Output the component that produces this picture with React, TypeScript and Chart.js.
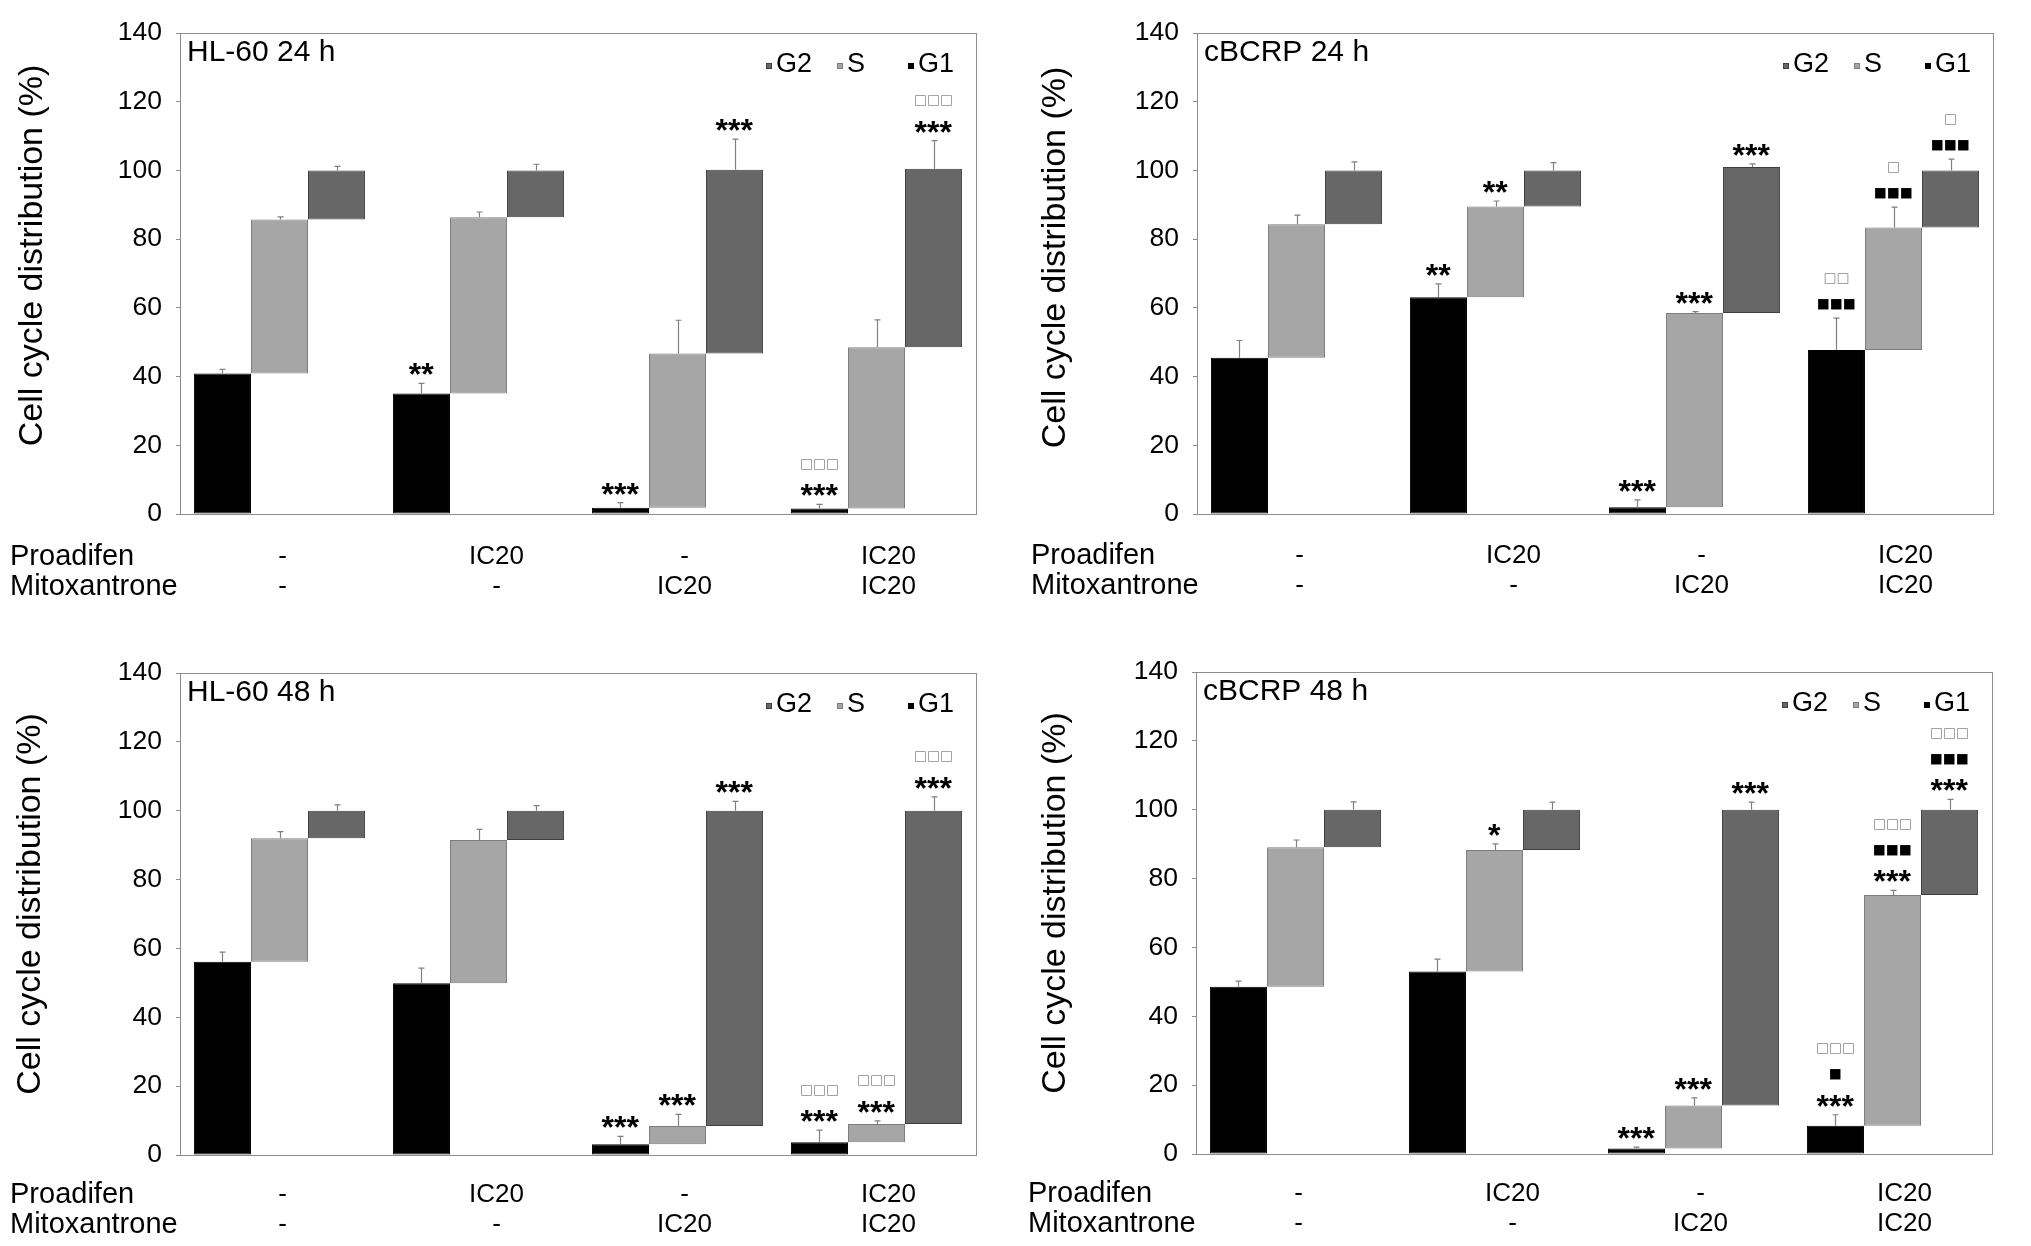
import React, { useEffect, useRef } from "react";
import { Chart, registerables } from "chart.js";

Chart.register(...registerables);

// ---------- shared labels ----------
const CATEGORIES = ["C1", "C2", "C3", "C4"];
const PROADIFEN_ROW = ["-", "IC20", "-", "IC20"];
const MITOXANTRONE_ROW = ["-", "-", "IC20", "IC20"];
const ROW_LABELS = ["Proadifen", "Mitoxantrone"];
const SERIES_NAMES = ["G1", "S", "G2"];
const LEGEND_ORDER = [2, 1, 0];
const Y_TITLE = "Cell cycle distribution (%)";
const Y_MIN = 0;
const Y_MAX = 140;
const Y_STEP = 20;

// ---------- HL-60 24 h ----------
const HL60_24_G1 = [40.9, 35.1, 1.8, 1.6];
const HL60_24_S = [44.8, 51.3, 44.9, 46.9];
const HL60_24_G2 = [14.3, 13.6, 53.5, 52.0];
const HL60_24_G1_ERR = [1.2, 2.9, 1.5, 1.2];
const HL60_24_S_ERR = [0.8, 1.5, 9.7, 8.0];
const HL60_24_G2_ERR = [1.2, 1.8, 8.9, 8.2];
const HL60_24_G1_MARKS = [[], ["**"], ["***"], ["***", "□□□"]];
const HL60_24_S_MARKS = [[], [], [], []];
const HL60_24_G2_MARKS = [[], [], ["***"], ["***", "□□□"]];

// ---------- cBCRP 24 h ----------
const CBCRP_24_G1 = [45.5, 63.1, 2.0, 47.7];
const CBCRP_24_S = [38.8, 26.4, 56.5, 35.7];
const CBCRP_24_G2 = [15.7, 10.5, 42.5, 16.6];
const CBCRP_24_G1_ERR = [5.0, 3.9, 2.1, 9.3];
const CBCRP_24_S_ERR = [2.7, 1.6, 0.4, 5.9];
const CBCRP_24_G2_ERR = [2.5, 2.3, 0.9, 3.3];
const CBCRP_24_G1_MARKS = [[], ["**"], ["***"], ["■■■", "□□"]];
const CBCRP_24_S_MARKS = [[], ["**"], ["***"], ["■■■", "□"]];
const CBCRP_24_G2_MARKS = [[], [], ["***"], ["■■■", "□"]];

// ---------- HL-60 48 h ----------
const HL60_48_G1 = [56.1, 49.9, 3.1, 3.7];
const HL60_48_S = [35.9, 41.6, 5.3, 5.3];
const HL60_48_G2 = [8.0, 8.5, 91.6, 91.0];
const HL60_48_G1_ERR = [2.8, 4.4, 2.3, 3.5];
const HL60_48_S_ERR = [1.9, 3.1, 3.4, 0.9];
const HL60_48_G2_ERR = [1.7, 1.5, 2.7, 4.0];
const HL60_48_G1_MARKS = [[], [], ["***"], ["***", "□□□"]];
const HL60_48_S_MARKS = [[], [], ["***"], ["***", "□□□"]];
const HL60_48_G2_MARKS = [[], [], ["***"], ["***", "□□□"]];

// ---------- cBCRP 48 h ----------
const CBCRP_48_G1 = [48.6, 53.0, 1.6, 8.2];
const CBCRP_48_S = [40.5, 35.3, 12.5, 67.0];
const CBCRP_48_G2 = [10.9, 11.7, 85.9, 24.8];
const CBCRP_48_G1_ERR = [1.6, 3.6, 0.4, 3.2];
const CBCRP_48_S_ERR = [2.1, 1.8, 2.2, 1.4];
const CBCRP_48_G2_ERR = [2.3, 2.2, 2.2, 3.0];
const CBCRP_48_G1_MARKS = [[], [], ["***"], ["***", "■", "□□□"]];
const CBCRP_48_S_MARKS = [[], ["*"], ["***"], ["***", "■■■", "□□□"]];
const CBCRP_48_G2_MARKS = [[], [], ["***"], ["***", "■■■", "□□□"]];

// ---------- styles ----------
const FONT = '"Liberation Sans", Arial, sans-serif';
const SYMBOL_FONT = '"DejaVu Sans", sans-serif';
const AXIS_COLOR = "#8c8c8c";
const ERR_COLOR = "#808080";
const FILLS = ["#000000", "#a6a6a6", "#676767"];
const BORDERS = ["#000000", "#7d7d7d", "#3e3e3e"];
const HOLLOW_COLOR = "#8a8a8a";
const LABEL_SHIFT = [3, 18, 7, 12];
const Y_AXIS_W = 90;

type Layout = {
  x: number; y: number; w: number; h: number;
  L: number; R: number; T: number; B: number;
  yTitleDx: number; yTitleDy: number; rowDx: number; rowDy: number;
};

type PanelDef = {
  title: string;
  values: number[][];
  errors: number[][];
  marks: string[][][];
  layout: Layout;
};

const PANELS: PanelDef[] = [
  {
    title: "HL-60 24 h",
    values: [HL60_24_G1, HL60_24_S, HL60_24_G2],
    errors: [HL60_24_G1_ERR, HL60_24_S_ERR, HL60_24_G2_ERR],
    marks: [HL60_24_G1_MARKS, HL60_24_S_MARKS, HL60_24_G2_MARKS],
    layout: { x: 0, y: 0, w: 1015, h: 623, L: 180, R: 976, T: 33, B: 514, yTitleDx: -147, yTitleDy: -18, rowDx: -170, rowDy: 3 },
  },
  {
    title: "cBCRP 24 h",
    values: [CBCRP_24_G1, CBCRP_24_S, CBCRP_24_G2],
    errors: [CBCRP_24_G1_ERR, CBCRP_24_S_ERR, CBCRP_24_G2_ERR],
    marks: [CBCRP_24_G1_MARKS, CBCRP_24_S_MARKS, CBCRP_24_G2_MARKS],
    layout: { x: 1015, y: 0, w: 1016, h: 623, L: 182, R: 978, T: 33, B: 514, yTitleDx: -141, yTitleDy: -16, rowDx: -166, rowDy: 2 },
  },
  {
    title: "HL-60 48 h",
    values: [HL60_48_G1, HL60_48_S, HL60_48_G2],
    errors: [HL60_48_G1_ERR, HL60_48_S_ERR, HL60_48_G2_ERR],
    marks: [HL60_48_G1_MARKS, HL60_48_S_MARKS, HL60_48_G2_MARKS],
    layout: { x: 0, y: 623, w: 1015, h: 623, L: 180, R: 976, T: 50, B: 532, yTitleDx: -149, yTitleDy: -10, rowDx: -170, rowDy: 0 },
  },
  {
    title: "cBCRP 48 h",
    values: [CBCRP_48_G1, CBCRP_48_S, CBCRP_48_G2],
    errors: [CBCRP_48_G1_ERR, CBCRP_48_S_ERR, CBCRP_48_G2_ERR],
    marks: [CBCRP_48_G1_MARKS, CBCRP_48_S_MARKS, CBCRP_48_G2_MARKS],
    layout: { x: 1015, y: 623, w: 1016, h: 623, L: 181, R: 977, T: 49, B: 531, yTitleDx: -140, yTitleDy: -10, rowDx: -168, rowDy: 0 },
  },
];

function drawCentered(ctx: CanvasRenderingContext2D, text: string, xc: number, yc: number) {
  const m = ctx.measureText(text);
  const l = m.actualBoundingBoxLeft;
  const r = m.actualBoundingBoxRight;
  const asc = m.actualBoundingBoxAscent;
  const desc = m.actualBoundingBoxDescent;
  ctx.textAlign = "left";
  ctx.textBaseline = "alphabetic";
  ctx.fillText(text, xc - (r - l) / 2, yc + (asc - desc) / 2);
}

function makePlugin(p: PanelDef) {
  return {
    id: "panelDecor",
    afterDraw(chart: any) {
      const ctx: CanvasRenderingContext2D = chart.ctx;
      const a = chart.chartArea;
      const xs = chart.scales.x;
      const ys = chart.scales.y;
      const lay = p.layout;
      ctx.save();

      // plot frame
      ctx.strokeStyle = AXIS_COLOR;
      ctx.lineWidth = 1;
      ctx.strokeRect(Math.round(a.left) + 0.5, Math.round(a.top) + 0.5, Math.round(a.right - a.left), Math.round(a.bottom - a.top));

      // symbol font calibration
      ctx.font = "100px " + SYMBOL_FONT;
      const mm = ctx.measureText("■");
      const sqW = mm.actualBoundingBoxLeft + mm.actualBoundingBoxRight || 60;
      const sqFont = (100 * 10.5) / sqW;

      // error bars and significance marks
      for (let d = 0; d < 3; d++) {
        const meta = chart.getDatasetMeta(d);
        meta.data.forEach((bar: any, i: number) => {
          let start = 0;
          for (let k = 0; k < d; k++) start += p.values[k][i];
          const end = start + p.values[d][i];
          const topPx = ys.getPixelForValue(end);
          const errPx = ys.getPixelForValue(end + p.errors[d][i]);
          const x = Math.round(bar.x) + 0.5;
          ctx.strokeStyle = ERR_COLOR;
          ctx.lineWidth = 1.2;
          ctx.beginPath();
          ctx.moveTo(x, topPx);
          ctx.lineTo(x, errPx);
          ctx.moveTo(x - 3, errPx);
          ctx.lineTo(x + 3, errPx);
          ctx.stroke();

          let yc = errPx - 14;
          for (const line of p.marks[d][i]) {
            if (line.includes("*")) {
              ctx.fillStyle = "#000";
              ctx.font = "bold 32px " + FONT;
              drawCentered(ctx, line, bar.x, yc);
            } else {
              ctx.font = sqFont.toFixed(2) + "px " + SYMBOL_FONT;
              const chars = Array.from(line);
              chars.forEach((ch, k) => {
                ctx.fillStyle = ch === "■" ? "#000" : HOLLOW_COLOR;
                drawCentered(ctx, ch, bar.x + (k - (chars.length - 1) / 2) * 13, yc);
              });
            }
            yc -= 26;
          }
        });
      }

      // panel title
      ctx.fillStyle = "#000";
      ctx.font = "30px " + FONT;
      ctx.textAlign = "left";
      ctx.textBaseline = "alphabetic";
      ctx.fillText(p.title, a.left + 7, a.top + 28);

      // legend
      LEGEND_ORDER.forEach((s, k) => {
        const sx = a.right - 210 + k * 71;
        const sy = a.top + 30;
        ctx.fillStyle = FILLS[s];
        ctx.fillRect(sx, sy, 6, 6);
        ctx.strokeStyle = BORDERS[s];
        ctx.lineWidth = 1;
        ctx.strokeRect(sx + 0.5, sy + 0.5, 5, 5);
        ctx.fillStyle = "#000";
        ctx.font = "27px " + FONT;
        ctx.textAlign = "left";
        ctx.textBaseline = "middle";
        ctx.fillText(SERIES_NAMES[s], sx + 10, a.top + 32);
      });

      // y-axis title
      ctx.save();
      ctx.translate(a.left + lay.yTitleDx, (a.top + a.bottom) / 2 + lay.yTitleDy);
      ctx.rotate(-Math.PI / 2);
      ctx.fillStyle = "#000";
      ctx.font = "34px " + FONT;
      ctx.textAlign = "center";
      ctx.textBaseline = "middle";
      ctx.fillText(Y_TITLE, 0, 0);
      ctx.restore();

      // treatment rows
      const rows = [PROADIFEN_ROW, MITOXANTRONE_ROW];
      rows.forEach((row, r) => {
        const yy = a.bottom + 40 + lay.rowDy + r * 30;
        ctx.fillStyle = "#000";
        ctx.font = "29px " + FONT;
        ctx.textAlign = "left";
        ctx.textBaseline = "middle";
        ctx.fillText(ROW_LABELS[r], a.left + lay.rowDx, yy);
        ctx.font = "26px " + FONT;
        ctx.textAlign = "center";
        row.forEach((txt, i) => {
          ctx.fillText(txt, xs.getPixelForValue(i) + LABEL_SHIFT[i], yy);
        });
      });

      ctx.restore();
    },
  };
}

function Panel({ def }: { def: PanelDef }) {
  const ref = useRef<HTMLCanvasElement | null>(null);
  useEffect(() => {
    const canvas = ref.current;
    if (!canvas) return;
    const lay = def.layout;
    const datasets = SERIES_NAMES.map((name, d) => ({
      label: name,
      data: CATEGORIES.map((_, i) => {
        let start = 0;
        for (let k = 0; k < d; k++) start += def.values[k][i];
        return [start, start + def.values[d][i]];
      }),
      backgroundColor: FILLS[d],
      borderColor: BORDERS[d],
      borderWidth: 1,
      borderSkipped: false,
      categoryPercentage: 0.86,
      barPercentage: 1.0,
    }));
    const chart = new Chart(canvas, {
      type: "bar",
      data: { labels: CATEGORIES, datasets: datasets as any },
      options: {
        responsive: false,
        animation: false,
        devicePixelRatio: 1,
        layout: {
          padding: { left: lay.L - Y_AXIS_W, top: lay.T, right: lay.w - lay.R, bottom: lay.h - lay.B },
        },
        plugins: { legend: { display: false }, tooltip: { enabled: false }, title: { display: false } },
        scales: {
          x: { display: false },
          y: {
            min: Y_MIN,
            max: Y_MAX,
            afterFit: (scale: any) => {
              scale.width = Y_AXIS_W;
            },
            ticks: { stepSize: Y_STEP, color: "#000", padding: 14, font: { family: FONT, size: 26.5 } },
            grid: { display: true, drawOnChartArea: false, drawTicks: true, tickLength: 4, color: AXIS_COLOR },
            border: { display: false },
          },
        },
      },
      plugins: [makePlugin(def)],
    });
    return () => chart.destroy();
  }, [def]);
  const lay = def.layout;
  return (
    <canvas
      ref={ref}
      width={lay.w}
      height={lay.h}
      style={{ position: "absolute", left: lay.x, top: lay.y, width: lay.w, height: lay.h }}
    />
  );
}

export default function App() {
  return (
    <div style={{ position: "absolute", left: 0, top: 0, width: 2031, height: 1246, background: "#fff", overflow: "hidden" }}>
      {PANELS.map((p) => (
        <Panel key={p.title} def={p} />
      ))}
    </div>
  );
}
